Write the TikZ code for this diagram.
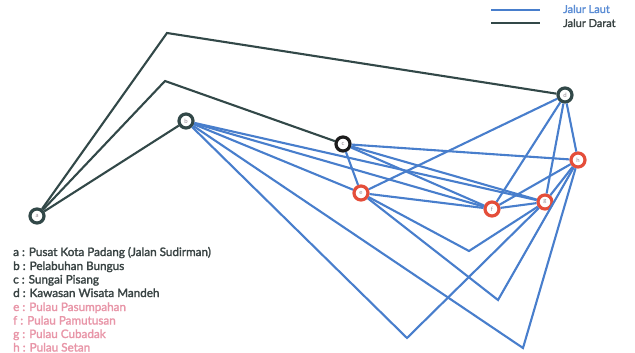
\documentclass[tikz,border=0pt]{standalone}
\usepackage{fontspec}
\setmainfont{Lato}
\newfontfamily\keyfont{Lato}[FakeBold=2]
\definecolor{seablue}{RGB}{72,126,204}
\definecolor{landgray}{RGB}{50,72,72}
\definecolor{ringred}{RGB}{228,78,58}
\definecolor{ringblack}{RGB}{28,28,28}
\definecolor{letgray}{RGB}{150,140,150}
\definecolor{txtdark}{RGB}{58,68,68}
\definecolor{txtpink}{RGB}{232,150,168}
\definecolor{txtblue}{RGB}{90,140,212}
\begin{document}
\begin{tikzpicture}[x=1pt,y=-1pt,
  sea/.style={draw=seablue, line width=2.1pt, line join=miter},
  land/.style={draw=landgray, line width=2.1pt},
  place/.style={circle, draw=#1, line width=3.2pt, fill=white, minimum size=14pt,
    inner sep=0pt, font=\fontsize{6}{6}\selectfont, text=letgray},
  legtext/.style={anchor=base west, font=\keyfont\fontsize{11}{12}\selectfont, inner sep=0pt},
  keytext/.style={anchor=base west, font=\keyfont\fontsize{11.7}{12}\selectfont, inner sep=0pt}]
\useasboundingbox (0,0) rectangle (635,353);

% places
\node[place=landgray]  (a) at (37,216) {a};
\node[place=landgray]  (b) at (186,121) {b};
\node[place=ringblack] (c) at (343,144) {c};
\node[place=landgray]  (d) at (565,95) {d};
\node[place=ringred]   (e) at (361,193) {e};
\node[place=ringred]   (f) at (492,209) {f};
\node[place=ringred]   (g) at (545,202) {g};
\node[place=ringred]   (h) at (578,160) {h};

% bends
\coordinate (k1) at (167,33);
\coordinate (k2) at (165,81);
\coordinate (v1) at (469,251);
\coordinate (v2) at (498,300);
\coordinate (v3) at (407,338);
\coordinate (v4) at (523,348);

% land routes
\draw[land] (a) -- (k1) -- (d);
\draw[land] (a) -- (k2) -- (c);
\draw[land] (a) -- (b);

% sea routes
\draw[sea] (b) -- (e);
\draw[sea] (b) -- (f);
\draw[sea] (b) -- (g);
\draw[sea] (b) -- (v3) -- (g);
\draw[sea] (b) -- (v4) -- (h);
\draw[sea] (c) -- (e);
\draw[sea] (c) -- (f);
\draw[sea] (c) -- (g);
\draw[sea] (c) -- (h);
\draw[sea] (e) -- (d);
\draw[sea] (e) -- (f);
\draw[sea] (e) -- (v1) -- (g);
\draw[sea] (e) -- (v2) -- (h);
\draw[sea] (d) -- (f);
\draw[sea] (d) -- (g);
\draw[sea] (d) -- (h);
\draw[sea] (f) -- (g);
\draw[sea] (f) -- (h);
\draw[sea] (g) -- (h);

% legend top right
\coordinate (ls1) at (491,10);
\coordinate (le1) at (540,10);
\coordinate (ls2) at (491,23);
\coordinate (le2) at (540,23);
\draw[sea] (ls1) -- (le1);
\draw[land] (ls2) -- (le2);
\node[legtext, text=txtblue] (jl) at (563,13) {Jalur Laut};
\node[legtext, text=txtdark] (jd) at (563,27) {Jalur Darat};

% key bottom left
\node[keytext, text=txtdark] (ka) at (13,256) {a : Pusat Kota Padang (Jalan Sudirman)};
\node[keytext, text=txtdark] (kb) at (13,270) {b : Pelabuhan Bungus};
\node[keytext, text=txtdark] (kc) at (13,283.5) {c : Sungai Pisang};
\node[keytext, text=txtdark] (kd) at (13,297) {d : Kawasan Wisata Mandeh};
\node[keytext, text=txtpink] (ke) at (13,311) {e : Pulau Pasumpahan};
\node[keytext, text=txtpink] (kf) at (13,324.5) {f : Pulau Pamutusan};
\node[keytext, text=txtpink] (kg) at (13,338) {g : Pulau Cubadak};
\node[keytext, text=txtpink] (kh) at (13,351.5) {h : Pulau Setan};
\end{tikzpicture}
\end{document}
